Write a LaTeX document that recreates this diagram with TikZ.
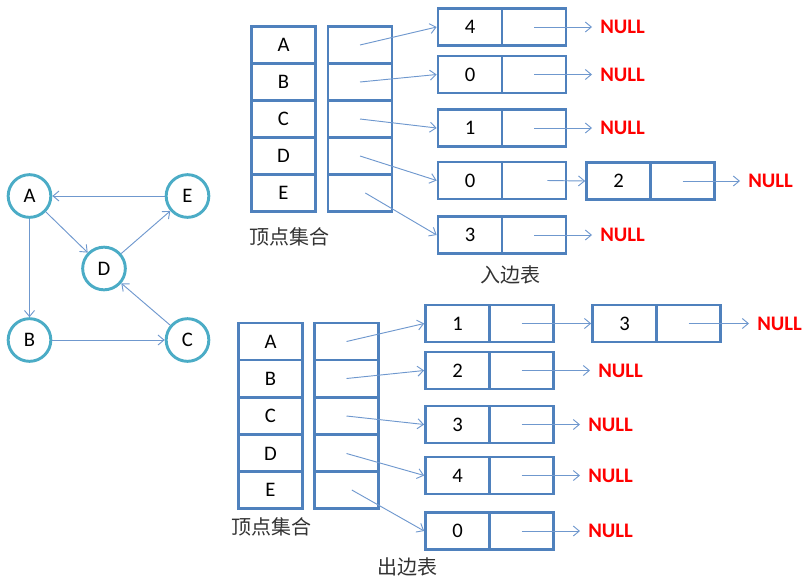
\documentclass[tikz,border=0pt]{standalone}
\usepackage{fontspec}
\setmainfont{Carlito}
\newfontfamily\cjk{Noto Sans CJK SC}
\usetikzlibrary{arrows.meta}
\definecolor{boxblue}{HTML}{4F81BD}
\definecolor{linkblue}{HTML}{6F98CE}
\definecolor{ringteal}{HTML}{4BACC6}
\newcommand{\cellfont}{\fontsize{15.5}{18}\selectfont}
\newcommand{\labfont}{\cjk\fontsize{15}{18}\selectfont}
\tikzset{
	cell/.style={draw=boxblue, line width=2pt, minimum width=48pt, minimum height=27.75pt, inner sep=0pt},
	vtx/.style={circle, draw=ringteal, line width=2.2pt, minimum size=32pt, inner sep=0pt},
	link/.style={draw=linkblue, line width=0.7pt, -{Straight Barb[length=4.5pt,width=7.5pt]}},
	nullp/.style={anchor=west, inner xsep=0pt, text=red, font=\cellfont\bfseries},
	tonull/.style={link, shorten >=6pt},
	lab/.style={font=\labfont, text=black!80}
}
\begin{document}
\begin{tikzpicture}[x=0.75pt, y=-0.75pt, font=\cellfont]
		\useasboundingbox (0,0) rectangle (802,579);

		\node[vtx] (a) at (29.5,196) {A};
		\node[vtx] (e) at (187.5,196) {E};
		\node[vtx] (d) at (104,268.5) {D};
		\node[vtx] (b) at (29.5,340) {B};
		\node[vtx] (c) at (187.5,340) {C};
		\draw[link] (e) -- (a);
		\draw[link] (a) -- (b);
		\draw[link] (b) -- (c);
		\draw[link] (c) -- (d);
		\draw[link] (a) -- (d);
		\draw[link] (d) -- (e);

		\node[cell] (iva) at (283.5,45) {A};
		\node[cell] (ivb) at (283.5,82) {B};
		\node[cell] (ivc) at (283.5,119) {C};
		\node[cell] (ivd) at (283.5,156) {D};
		\node[cell] (ive) at (283.5,193) {E};
		\node[cell] (ipa) at (360,45) {};
		\node[cell] (ipb) at (360,82) {};
		\node[cell] (ipc) at (360,119) {};
		\node[cell] (ipd) at (360,156) {};
		\node[cell] (ipe) at (360,193) {};
		\node[lab] (itab) at (289,237) {顶点集合};

		\node[cell] (ia1) at (470,27) {4};
		\node[cell] (ia1n) at (534,27) {};
		\node[nullp] (ianull) at (600,27) {NULL};
		\node[cell] (ib1) at (470,74.5) {0};
		\node[cell] (ib1n) at (534,74.5) {};
		\node[nullp] (ibnull) at (600,74.5) {NULL};
		\node[cell] (ic1) at (470,128) {1};
		\node[cell] (ic1n) at (534,128) {};
		\node[nullp] (icnull) at (600,128) {NULL};
		\node[cell] (id1) at (470,180.5) {0};
		\node[cell] (id1n) at (534,180.5) {};
		\node[cell] (id2) at (618.5,181) {2};
		\node[cell] (id2n) at (682.5,181) {};
		\node[nullp] (idnull) at (748,181) {NULL};
		\node[cell] (ie1) at (470,235) {3};
		\node[cell] (ie1n) at (534,235) {};
		\node[nullp] (ienull) at (600,235) {NULL};
		\node[lab] (inname) at (510,275) {入边表};

		\draw[link] (ipa.center) -- (ia1.west);
		\draw[link] (ipb.center) -- (ib1.west);
		\draw[link] (ipc.center) -- (ic1.west);
		\draw[link] (ipd.center) -- (id1.west);
		\draw[link] ([xshift=4pt]ipe.center) -- (ie1.west);
		\draw[tonull] (ia1n.center) -- (ianull.west);
		\draw[tonull] (ib1n.center) -- (ibnull.west);
		\draw[tonull] (ic1n.center) -- (icnull.west);
		\draw[link] ([xshift=10pt]id1n.center) -- (id2.west);
		\draw[tonull] (id2n.center) -- (idnull.west);
		\draw[tonull] (ie1n.center) -- (ienull.west);

		\node[cell] (ova) at (270.5,341.5) {A};
		\node[cell] (ovb) at (270.5,378.5) {B};
		\node[cell] (ovc) at (270.5,416) {C};
		\node[cell] (ovd) at (270.5,453.5) {D};
		\node[cell] (ove) at (270.5,490) {E};
		\node[cell] (opa) at (346.5,341.5) {};
		\node[cell] (opb) at (346.5,378.5) {};
		\node[cell] (opc) at (346.5,416) {};
		\node[cell] (opd) at (346.5,453.5) {};
		\node[cell] (ope) at (346.5,490) {};
		\node[lab] (otab) at (271,527) {顶点集合};

		\node[cell] (oa1) at (457.5,323.5) {1};
		\node[cell] (oa1n) at (521.5,323.5) {};
		\node[cell] (oa2) at (624.5,323.5) {3};
		\node[cell] (oa2n) at (688.5,323.5) {};
		\node[nullp] (oanull) at (757,323.5) {NULL};
		\node[cell] (ob1) at (457.5,370.5) {2};
		\node[cell] (ob1n) at (521.5,370.5) {};
		\node[nullp] (obnull) at (598,370.5) {NULL};
		\node[cell] (oc1) at (457.5,424.5) {3};
		\node[cell] (oc1n) at (521.5,424.5) {};
		\node[nullp] (ocnull) at (588,424.5) {NULL};
		\node[cell] (od1) at (457.5,475.5) {4};
		\node[cell] (od1n) at (521.5,475.5) {};
		\node[nullp] (odnull) at (588,475.5) {NULL};
		\node[cell] (oe1) at (457.5,531) {0};
		\node[cell] (oe1n) at (521.5,531) {};
		\node[nullp] (oenull) at (588,531) {NULL};
		\node[lab] (outname) at (407,567) {出边表};

		\draw[link] (opa.center) -- (oa1.west);
		\draw[link] (opb.center) -- (ob1.west);
		\draw[link] (opc.center) -- (oc1.west);
		\draw[link] (opd.center) -- (od1.west);
		\draw[link] ([xshift=4pt]ope.center) -- (oe1.west);
		\draw[link] (oa1n.center) -- (oa2.west);
		\draw[tonull] (oa2n.center) -- (oanull.west);
		\draw[tonull] (ob1n.center) -- (obnull.west);
		\draw[tonull] (oc1n.center) -- (ocnull.west);
		\draw[tonull] (od1n.center) -- (odnull.west);
		\draw[tonull] (oe1n.center) -- (oenull.west);

	\end{tikzpicture}
\end{document}
